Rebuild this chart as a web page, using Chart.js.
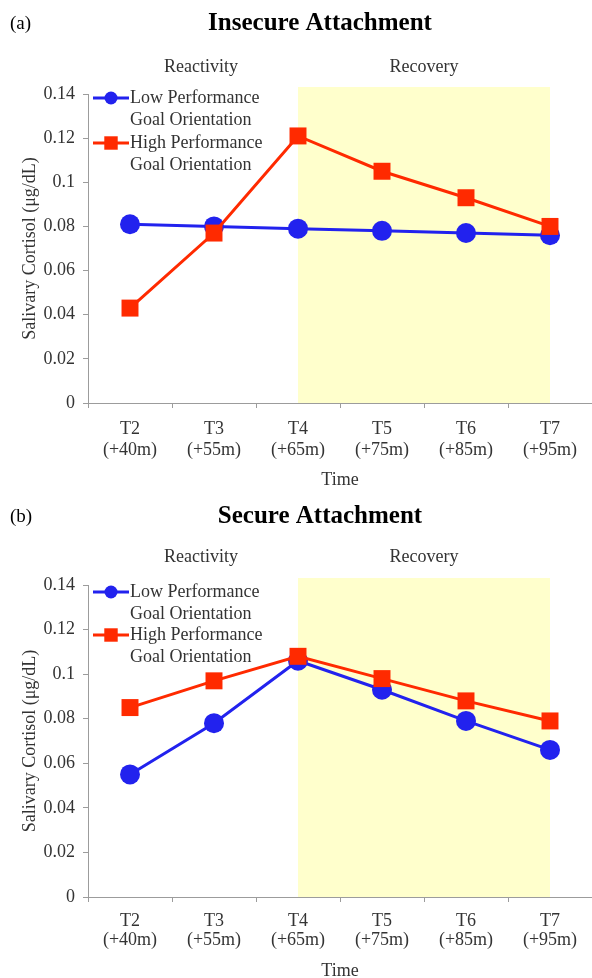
<!DOCTYPE html>
<html>
<head>
<meta charset="utf-8">
<script src="https://cdn.jsdelivr.net/npm/chart.js@4.4.1/dist/chart.umd.min.js"></script>
<style>
  html, body { margin: 0; padding: 0; background: #fff; }
  #wrap { position: relative; width: 592px; height: 978px; background: #fff; overflow: hidden; }
  canvas { position: absolute; left: 0; }
</style>
</head>
<body>
<div id="wrap">
  <canvas id="chartA" width="592" height="489" style="top:0px"></canvas>
  <canvas id="chartB" width="592" height="489" style="top:491px"></canvas>
</div>
<script>
// data
const timeLabels = [["T2", "(+40m)"], ["T3", "(+55m)"], ["T4", "(+65m)"], ["T5", "(+75m)"], ["T6", "(+85m)"], ["T7", "(+95m)"]];
const yTickLabels = ["0", "0.02", "0.04", "0.06", "0.08", "0.1", "0.12", "0.14"];
const insecureLow = [0.081, 0.080, 0.079, 0.078, 0.077, 0.076];
const insecureHigh = [0.043, 0.077, 0.121, 0.105, 0.093, 0.080];
const secureLow = [0.055, 0.078, 0.106, 0.093, 0.079, 0.066];
const secureHigh = [0.085, 0.097, 0.108, 0.098, 0.088, 0.079];
const lowLabel = ["Low Performance", "Goal Orientation"];
const highLabel = ["High Performance", "Goal Orientation"];
const phaseLabels = ["Reactivity", "Recovery"];
const recoveryFrom = 2, recoveryTo = 5; // T4 .. T7

const serif = '"Liberation Serif", "Times New Roman", serif';
const blue = '#2222ee';
const red = '#ff2a00';
const axisGray = '#9c9c9c';

// shaded recovery band, titles, phase labels and the in-plot legend
const decor = {
  id: 'decor',
  beforeDraw(chart, args, o) {
    const ctx = chart.ctx, x = chart.scales.x, a = chart.chartArea;
    const x1 = x.getPixelForValue(recoveryFrom), x2 = x.getPixelForValue(recoveryTo);
    ctx.save();
    ctx.fillStyle = '#ffffcc';
    ctx.fillRect(x1, a.top - 7, x2 - x1, a.bottom - a.top + 7);
    ctx.restore();
  },
  afterDraw(chart, args, o) {
    const ctx = chart.ctx, x = chart.scales.x, a = chart.chartArea;
    ctx.save();
    ctx.textBaseline = 'middle';
    ctx.fillStyle = '#000';
    ctx.font = '19px ' + serif;
    ctx.textAlign = 'left';
    ctx.fillText(o.panel, 10, o.titleY);
    ctx.font = 'bold 25px ' + serif;
    ctx.textAlign = 'center';
    ctx.fillText(o.title, 320, o.titleY);

    const xs = x.getPixelForValue(recoveryFrom), xe = x.getPixelForValue(recoveryTo);
    ctx.font = '18px ' + serif;
    ctx.fillStyle = '#333';
    ctx.fillText(phaseLabels[0], (a.left + xs) / 2 + 8, o.phaseY);
    ctx.fillText(phaseLabels[1], (xs + xe) / 2, o.phaseY);

    // legend
    ctx.textAlign = 'left';
    chart.data.datasets.forEach((ds, i) => {
      const y = a.top + o.legendTop + i * o.legendStep;
      ctx.strokeStyle = ds.borderColor;
      ctx.lineWidth = 3;
      ctx.beginPath();
      ctx.moveTo(a.left + 5, y);
      ctx.lineTo(a.left + 41, y);
      ctx.stroke();
      ctx.fillStyle = ds.pointBackgroundColor;
      Chart.helpers.drawPoint(ctx, {pointStyle: ds.pointStyle, radius: ds.pointStyle === 'rect' ? 9.5 : 6.5, rotation: 0, borderWidth: 0}, a.left + 23, y);
      ctx.fillStyle = '#333';
      ds.label.forEach((line, j) => ctx.fillText(line, a.left + 42, y + j * 22));
    });
    ctx.restore();
  }
};

function makeChart(id, low, high, panel, title, opts) {
  return new Chart(document.getElementById(id), {
    type: 'line',
    data: {
      labels: timeLabels,
      datasets: [{
        label: lowLabel,
        data: low,
        borderColor: blue,
        backgroundColor: blue,
        pointBackgroundColor: blue,
        pointStyle: 'circle',
        pointRadius: 10,
        pointBorderWidth: 0,
        borderWidth: 3,
        tension: 0,
        order: 1
      }, {
        label: highLabel,
        data: high,
        borderColor: red,
        backgroundColor: red,
        pointBackgroundColor: red,
        pointStyle: 'rect',
        pointRadius: 12,
        pointBorderWidth: 0,
        borderWidth: 3,
        tension: 0,
        order: 0
      }]
    },
    options: {
      responsive: false,
      animation: false,
      devicePixelRatio: 1,
      layout: { autoPadding: false, padding: { top: opts.top, left: 0, right: 0, bottom: 0 } },
      plugins: {
        legend: { display: false },
        tooltip: { enabled: false },
        decor: Object.assign({ panel: panel, title: title }, opts)
      },
      scales: {
        x: {
          offset: true,
          grid: { offset: true, drawOnChartArea: false, tickLength: 5, color: axisGray },
          border: { color: axisGray, width: 1 },
          ticks: { color: '#333', font: { family: serif, size: 18, lineHeight: opts.tickLine }, padding: opts.tickPad, maxRotation: 0, autoSkip: false },
          title: { display: true, text: 'Time', color: '#333', font: { family: serif, size: 18, lineHeight: 1 }, padding: 0 },
          afterFit: s => { s.height = opts.xHeight; s.paddingLeft = 0; s.paddingRight = 0; }
        },
        y: {
          min: 0,
          max: 0.14,
          ticks: { stepSize: 0.02, color: '#333', font: { family: serif, size: 18 }, padding: 8,
                   callback: (v, i) => yTickLabels[i] },
          grid: { drawOnChartArea: false, tickLength: 5, color: axisGray },
          border: { color: axisGray, width: 1 },
          title: { display: true, text: 'Salivary Cortisol (μg/dL)', color: '#333', font: { family: serif, size: 18 }, padding: { top: 19, bottom: 0 } },
          afterFit: s => { s.width = 88; s.paddingTop = 0; s.paddingBottom = 0; }
        }
      }
    },
    plugins: [decor]
  });
}

makeChart('chartA', insecureLow, insecureHigh, '(a)', 'Insecure Attachment',
  { top: 94, titleY: 24, phaseY: 67, legendTop: 4, legendStep: 45, xHeight: 86, tickPad: 10, tickLine: 1.2 });
makeChart('chartB', secureLow, secureHigh, '(b)', 'Secure Attachment',
  { top: 94, titleY: 26, phaseY: 66, legendTop: 7, legendStep: 43, xHeight: 83, tickPad: 9, tickLine: 1.1 });
</script>
</body>
</html>
